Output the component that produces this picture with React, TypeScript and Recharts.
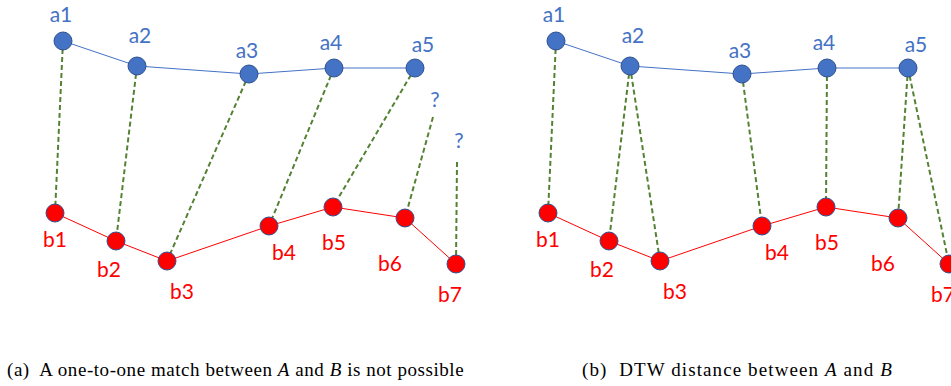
import React from "react";
import { ScatterChart, Scatter, XAxis, YAxis } from "recharts";

// sequence A (blue) and sequence B (red): position along time axis and value
const A_NAMES = ["a1", "a2", "a3", "a4", "a5"];
const A_T = [63, 137, 249, 334, 415];
const A_V = [279, 254, 246, 252, 252];

const B_NAMES = ["b1", "b2", "b3", "b4", "b5", "b6", "b7"];
const B_T = [55, 116, 167, 269, 333, 405, 456];
const B_V = [107, 79, 59, 94, 113, 102, 56];

// unmatched points in (a): the "?" ends
const Q_T = [433, 457];
const Q_V = [203, 158];

// links: [index in A, index in B]
const ONE_TO_ONE: [number, number][] = [[0, 0], [1, 1], [2, 2], [3, 3], [4, 4]];
const UNMATCHED_B = [5, 6];
const DTW_PATH: [number, number][] = [[0, 0], [1, 1], [1, 2], [2, 3], [3, 4], [4, 5], [4, 6]];

// label offsets (text baseline relative to point center)
const LABEL_OFF: Record<string, [number, number]> = {
  a1: [-2, -19], a2: [3, -23], a3: [-2, -16], a4: [-3, -18], a5: [8, -16],
  b1: [0, 34], b2: [-7, 36], b3: [15, 38], b4: [15, 34], b5: [1, 43], b6: [-15, 53], b7: [-6, 38],
};

const BLUE = "#4472C4";
const RED = "#FF0000";
const OUTLINE = "#2F528F";
const GREEN = "#548235";
const FONT = "Lato, 'Open Sans', sans-serif";
const LABEL_SIZE = 21;

const aData = A_NAMES.map((name, i) => ({ name, t: A_T[i], v: A_V[i] }));
const bData = B_NAMES.map((name, i) => ({ name, t: B_T[i], v: B_V[i] }));
const qData = Q_T.map((t, i) => ({ name: "?", t, v: Q_V[i] }));

const nothing = () => <g />;

function dot(fill: string, color: string) {
  return (props: any) => {
    const { cx, cy, payload } = props;
    const off = LABEL_OFF[payload.name] || [0, 0];
    return (
      <g>
        <circle cx={cx} cy={cy} r={9} fill={fill} stroke={OUTLINE} strokeWidth={1} />
        <text x={cx + off[0]} y={cy + off[1]} textAnchor="middle" fill={color} fontSize={LABEL_SIZE} fontFamily={FONT}>
          {payload.name}
        </text>
      </g>
    );
  };
}

const qMark = (props: any) => {
  const { cx, cy, index } = props;
  return (
    <text x={cx + 2} y={cy - (index === 0 ? 10 : 14)} textAnchor="middle" fill={BLUE} fontSize={LABEL_SIZE} fontFamily={FONT}>
      ?
    </text>
  );
};

function Panel({ links, question }: { links: [number, number][]; question: boolean }) {
  const segs = links.map(([ia, ib]) => [aData[ia], bData[ib]]);
  if (question) UNMATCHED_B.forEach((ib, k) => segs.push([qData[k], bData[ib]]));
  return (
    <ScatterChart width={480} height={320} margin={{ top: 0, right: 0, bottom: 0, left: 0 }}>
      <XAxis type="number" dataKey="t" domain={[0, 480]} hide />
      <YAxis type="number" dataKey="v" domain={[0, 320]} hide />
      {segs.map((s, i) => (
        <Scatter
          key={i}
          data={s}
          shape={nothing}
          line={{ stroke: GREEN, strokeWidth: 2, strokeDasharray: "5 3" }}
          isAnimationActive={false}
        />
      ))}
      <Scatter data={aData} line={{ stroke: BLUE, strokeWidth: 1 }} shape={dot(BLUE, BLUE)} isAnimationActive={false} />
      <Scatter data={bData} line={{ stroke: RED, strokeWidth: 1 }} shape={dot(RED, RED)} isAnimationActive={false} />
      {question && <Scatter data={qData} shape={qMark} isAnimationActive={false} />}
    </ScatterChart>
  );
}

const captionStyle: React.CSSProperties = {
  position: "absolute",
  top: 359,
  fontFamily: "'Liberation Serif', 'Times New Roman', serif",
  fontSize: 19,
  color: "#000",
  whiteSpace: "nowrap",
};

export default function App() {
  return (
    <div style={{ position: "absolute", left: 0, top: 0, width: 951, height: 386, overflow: "hidden", background: "#fff" }}>
      <style>{`.recharts-surface{overflow:visible}`}</style>
      <div style={{ position: "absolute", left: 0, top: 0 }}>
        <Panel links={ONE_TO_ONE} question={true} />
      </div>
      <div style={{ position: "absolute", left: 492.5, top: 0 }}>
        <Panel links={DTW_PATH} question={false} />
      </div>
      <div style={{ ...captionStyle, left: 7, letterSpacing: 0.55 }}>
        (a)&nbsp; A one-to-one match between <i>A</i> and <i>B</i> is not possible
      </div>
      <div style={{ ...captionStyle, left: 582, letterSpacing: 1.1 }}>
        (b)&nbsp; DTW distance between <i>A</i> and <i>B</i>
      </div>
    </div>
  );
}
